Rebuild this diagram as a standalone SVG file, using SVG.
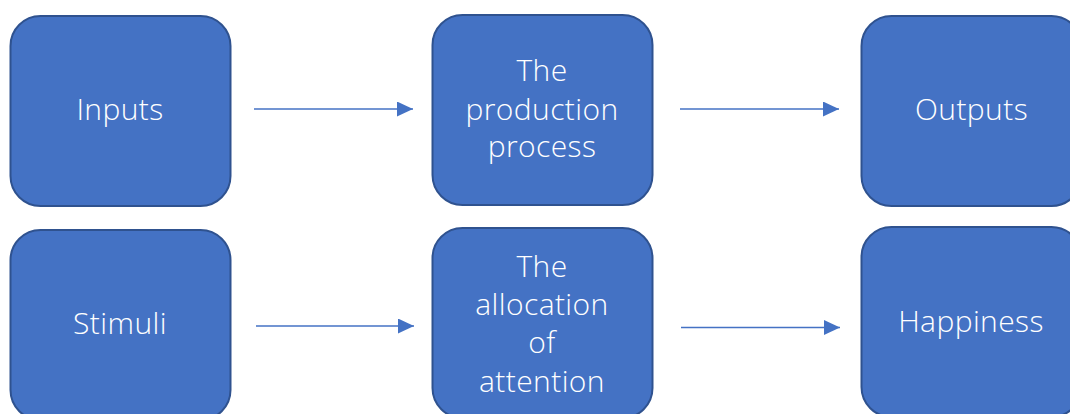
<svg xmlns="http://www.w3.org/2000/svg" width="1070" height="414" viewBox="0 0 1070 414">
<style>
.box{fill:#4472C4;stroke:#2F528F;stroke-width:2}
.lbl{fill:#fff;font-family:"Open Sans","Noto Sans","Liberation Sans",sans-serif;font-weight:300;font-size:30px;letter-spacing:0.4px;text-anchor:middle}
.conn{stroke:#4472C4;stroke-width:1.5;fill:none}
</style>
<defs>
<marker id="ah" markerWidth="16" markerHeight="15" refX="16" refY="7.5" orient="auto" markerUnits="userSpaceOnUse">
<path d="M0,0 L16,7.5 L0,15 Z" fill="#4472C4"/>
</marker>
</defs>
<rect width="1070" height="414" fill="#fff"/>
<g id="inputs"><rect class="box" x="10.5" y="16" width="220" height="190" rx="30"/><text class="lbl" x="120" y="120">Inputs</text></g>
<g id="production"><rect class="box" x="432.5" y="15" width="220" height="190" rx="30"/><text class="lbl" x="542" y="81">The</text><text class="lbl" x="542" y="119.5">production</text><text class="lbl" x="542" y="157">process</text></g>
<g id="outputs"><rect class="box" x="861.5" y="16" width="220" height="190" rx="30"/><text class="lbl" x="971.5" y="120">Outputs</text></g>
<g id="stimuli"><rect class="box" x="10.5" y="230" width="220" height="190" rx="30"/><text class="lbl" x="120" y="334">Stimuli</text></g>
<g id="allocation"><rect class="box" x="432.5" y="228" width="220" height="190" rx="30"/><text class="lbl" x="542" y="277">The</text><text class="lbl" x="542" y="315">allocation</text><text class="lbl" x="542" y="353">of</text><text class="lbl" x="542" y="391.5">attention</text></g>
<g id="happiness"><rect class="box" x="861.5" y="227" width="220" height="190" rx="30"/><text class="lbl" x="971" y="332">Happiness</text></g>
<g id="connectors">
<line class="conn" x1="254" y1="109" x2="413" y2="109" marker-end="url(#ah)"/>
<line class="conn" x1="680" y1="109" x2="839" y2="109" marker-end="url(#ah)"/>
<line class="conn" x1="256" y1="326" x2="414" y2="326" marker-end="url(#ah)"/>
<line class="conn" x1="681" y1="327.5" x2="840" y2="327.5" marker-end="url(#ah)"/>
</g>
</svg>
